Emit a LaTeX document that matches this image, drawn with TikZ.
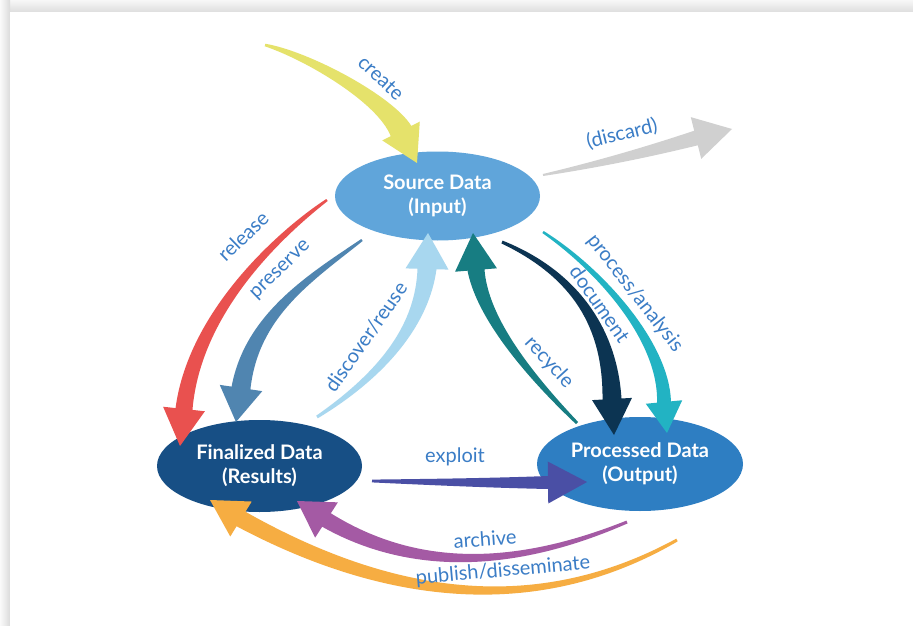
\documentclass[tikz,border=0pt]{standalone}
\usepackage{fontspec}
\setmainfont{Lato}
\usetikzlibrary{calc,shapes.geometric}
\definecolor{srcblue}{HTML}{60A5DA}
\definecolor{finblue}{HTML}{174F85}
\definecolor{procblue}{HTML}{2E7EC2}
\definecolor{lblblue}{HTML}{3B7DC6}
\definecolor{cyellow}{HTML}{E5E26B}
\definecolor{cgrey}{HTML}{D0D0D0}
\definecolor{cred}{HTML}{E9514F}
\definecolor{cpres}{HTML}{5085B0}
\definecolor{cdisc}{HTML}{A8D7EF}
\definecolor{crecy}{HTML}{177D82}
\definecolor{cdoc}{HTML}{0C3452}
\definecolor{cproc}{HTML}{22B3C3}
\definecolor{cexpl}{HTML}{4A4FA5}
\definecolor{carch}{HTML}{A45AA4}
\definecolor{cpub}{HTML}{F6AD42}
% tapered arrow: color, tail, ctrl1, ctrl2, head base, tip, tail half-width, shaft half-width, head half-width
\newcommand\tarrow[9]{%
  \coordinate (ta) at ($(#2)!#7!90:(#3)$);
  \coordinate (tb) at ($(#2)!#7!-90:(#3)$);
  \coordinate (ca) at ($(#3)!0.6667*#7+0.3333*#8!-90:(#2)$);
  \coordinate (cb) at ($(#3)!0.6667*#7+0.3333*#8!90:(#2)$);
  \coordinate (da) at ($(#4)!0.3333*#7+0.6667*#8!90:(#5)$);
  \coordinate (db) at ($(#4)!0.3333*#7+0.6667*#8!-90:(#5)$);
  \coordinate (ba) at ($(#5)!#8!90:(#6)$);
  \coordinate (bb) at ($(#5)!#8!-90:(#6)$);
  \coordinate (ha) at ($(#5)!#9!90:(#6)$);
  \coordinate (hb) at ($(#5)!#9!-90:(#6)$);
  \fill[#1] (ta) .. controls (ca) and (da) .. (ba) -- (ha) -- (#6) -- (hb) -- (bb) .. controls (db) and (cb) .. (tb) -- cycle;
}
\tikzset{
  datanode/.style={ellipse, inner sep=0pt, align=center, text=white,
    font=\fontsize{20}{24}\selectfont\bfseries},
  lbl/.style={text=lblblue, inner sep=0pt, font=\fontsize{20}{24}\selectfont}
}
\begin{document}
\begin{tikzpicture}[x=1pt,y=-1pt]
\useasboundingbox (0,0) rectangle (913,626);
% frame with shadow
\shade[top color=black!3, bottom color=black!14] (0,0) rectangle (913,13);
\shade[left color=black!2, right color=black!14] (0,0) rectangle (10,626);
\fill[white] (10,12.5) rectangle (913,626);
% data nodes
\node[datanode, fill=srcblue, minimum width=205pt, minimum height=89pt] (src) at (437.5,196) {Source Data\\(Input)};
\node[datanode, fill=finblue, minimum width=205pt, minimum height=92pt] (fin) at (259.5,466) {Finalized Data\\(Results)};
\node[datanode, fill=procblue, minimum width=206pt, minimum height=94pt] (proc) at (640,464) {Processed Data\\(Output)};
% arrow geometry
\coordinate (crT) at (265,45);  \coordinate (crA) at (307.7,55.7);  \coordinate (crC) at (385,99);  \coordinate (crB) at (401,131);  \coordinate (crP) at (417,163);
\coordinate (dsT) at (543,175); \coordinate (dsA) at (594.3,165); \coordinate (dsC) at (645.3,152.7); \coordinate (dsB) at (696,138); \coordinate (dsP) at (732,129);
\coordinate (reT) at (327,200); \coordinate (reA) at (285.6,229.6); \coordinate (reC) at (194.8,308.7); \coordinate (reB) at (184,409); \coordinate (reP) at (180,446);
\coordinate (prT) at (362,240); \coordinate (prA) at (310,278.1); \coordinate (prC) at (251.7,315.2); \coordinate (prB) at (241,388); \coordinate (prP) at (236,422);
\coordinate (diT) at (317,417); \coordinate (diA) at (385.7,372.3); \coordinate (diC) at (422.3,323); \coordinate (diB) at (427,269); \coordinate (diP) at (428,233);
\coordinate (rcT) at (577,423); \coordinate (rcA) at (515,361); \coordinate (rcC) at (481.3,310); \coordinate (rcB) at (476,270); \coordinate (rcP) at (473,233);
\coordinate (doT) at (502,242); \coordinate (doA) at (573.3,273.3); \coordinate (doC) at (610,326); \coordinate (doB) at (612,399); \coordinate (doP) at (614,435);
\coordinate (paT) at (543,232); \coordinate (paA) at (601,270.5); \coordinate (paC) at (664,342); \coordinate (paB) at (664,402); \coordinate (paP) at (667,433);
\coordinate (exT) at (372,481); \coordinate (exA) at (430,482); \coordinate (exC) at (490,483); \coordinate (exB) at (548,482.5); \coordinate (exP) at (587,482);
\coordinate (arT) at (627,522); \coordinate (arA) at (511,570.7); \coordinate (arC) at (410.8,570); \coordinate (arB) at (326.5,520); \coordinate (arP) at (297,501);
\coordinate (puT) at (677,540); \coordinate (puA) at (546.3,613.7); \coordinate (puC) at (401,606.7); \coordinate (puB) at (241,519); \coordinate (puP) at (210,500);
% arrows
\tarrow{cyellow}{crT}{crA}{crC}{crB}{crP}{1.3pt}{11.5pt}{21pt}
\tarrow{cgrey}{dsT}{dsA}{dsC}{dsB}{dsP}{1pt}{7.5pt}{21.5pt}
\tarrow{cred}{reT}{reA}{reC}{reB}{reP}{1.2pt}{8.5pt}{21pt}
\tarrow{cpres}{prT}{prA}{prC}{prB}{prP}{1.2pt}{9.5pt}{21.5pt}
\tarrow{cdisc}{diT}{diA}{diC}{diB}{diP}{1.5pt}{9.5pt}{21.5pt}
\tarrow{crecy}{rcT}{rcA}{rcC}{rcB}{rcP}{1.5pt}{8.5pt}{21pt}
\tarrow{cdoc}{doT}{doA}{doC}{doB}{doP}{1.5pt}{9.5pt}{20pt}
\tarrow{cproc}{paT}{paA}{paC}{paB}{paP}{1.2pt}{7pt}{18.3pt}
\tarrow{cexpl}{exT}{exA}{exC}{exB}{exP}{1.4pt}{6.5pt}{21pt}
\tarrow{carch}{arT}{arA}{arC}{arB}{arP}{1.5pt}{8pt}{21pt}
\tarrow{cpub}{puT}{puA}{puC}{puB}{puP}{1.5pt}{8.5pt}{20.5pt}
% labels
\node[lbl, rotate=-43] (lcreate) at (381,78) {create};
\node[lbl, rotate=14] (ldiscard) at (622,134) {(discard)};
\node[lbl, rotate=44] (lrelease) at (243,236) {release};
\node[lbl, rotate=44] (lpreserve) at (281,270.5) {preserve};
\node[lbl, rotate=55] (ldiscover) at (366,337) {discover/reuse};
\node[lbl, rotate=-47.5] (lrecycle) at (549,362.5) {recycle};
\node[lbl, rotate=-55] (ldocument) at (600,304) {document};
\node[lbl, rotate=-52] (lprocess) at (635,293.5) {process/analysis};
\node[lbl] (lexploit) at (455,457) {exploit};
\node[lbl, rotate=4] (larchive) at (485,539) {archive};
\node[lbl, rotate=5] (lpublish) at (503,571) {publish/disseminate};
\end{tikzpicture}
\end{document}
